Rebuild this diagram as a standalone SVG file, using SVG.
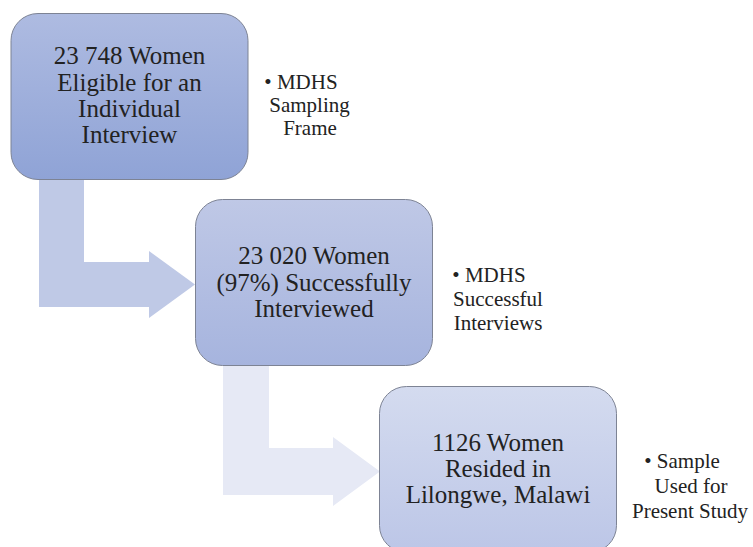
<svg xmlns="http://www.w3.org/2000/svg" width="753" height="547" viewBox="0 0 753 547">
  <style>
    .box { stroke: #7d8394; stroke-width: 1; }
    .bt { font-family: "Liberation Serif", "Times New Roman", serif; font-size: 25px; fill: #222222; text-anchor: middle; }
    .lt { font-family: "Liberation Serif", "Times New Roman", serif; font-size: 21px; fill: #222222; text-anchor: middle; }
  </style>
  <defs>
    <linearGradient id="g1" x1="0" y1="0" x2="0" y2="1">
      <stop offset="0" stop-color="#aebbe1"/>
      <stop offset="1" stop-color="#8fa3d6"/>
    </linearGradient>
    <linearGradient id="g2" x1="0" y1="0" x2="0" y2="1">
      <stop offset="0" stop-color="#bfc8e6"/>
      <stop offset="1" stop-color="#a6b4de"/>
    </linearGradient>
    <linearGradient id="g3" x1="0" y1="0" x2="0" y2="1">
      <stop offset="0" stop-color="#d4dbef"/>
      <stop offset="1" stop-color="#bcc6e7"/>
    </linearGradient>
  </defs>
  <rect width="753" height="547" fill="#ffffff"/>
  <g id="connectors">
    <path d="M39,179 L84,179 L84,262 L149,262 L149,251 L195,284.5 L149,318 L149,307 L39,307 Z" fill="#bfc9e6"/>
    <path d="M223,366 L269,366 L269,448 L333,448 L333,437 L380,471.5 L333,506 L333,495 L223,495 Z" fill="#e6e9f5"/>
  </g>
  <g id="node1">
    <rect class="box" x="11" y="13.5" width="237" height="166" rx="27" fill="url(#g1)"/>
    <text class="bt" x="129.5" y="64">23 748 Women</text>
    <text class="bt" x="129.5" y="90.5">Eligible for an</text>
    <text class="bt" x="129.5" y="116.5">Individual</text>
    <text class="bt" x="129.5" y="143">Interview</text>
  </g>
  <g id="label1">
    <text class="lt" x="301" y="89">• MDHS</text>
    <text class="lt" x="309.5" y="112">Sampling</text>
    <text class="lt" x="310" y="135">Frame</text>
  </g>
  <g id="node2">
    <rect class="box" x="195.5" y="199.5" width="237" height="166" rx="27" fill="url(#g2)"/>
    <text class="bt" x="314" y="264">23 020 Women</text>
    <text class="bt" x="314" y="290.5">(97%) Successfully</text>
    <text class="bt" x="314" y="317">Interviewed</text>
  </g>
  <g id="label2">
    <text class="lt" x="489" y="282">• MDHS</text>
    <text class="lt" x="498" y="306">Successful</text>
    <text class="lt" x="498" y="330">Interviews</text>
  </g>
  <g id="node3">
    <rect class="box" x="379.5" y="386.5" width="237" height="166" rx="27" fill="url(#g3)"/>
    <text class="bt" x="498" y="451">1126 Women</text>
    <text class="bt" x="498" y="477">Resided in</text>
    <text class="bt" x="498" y="503">Lilongwe, Malawi</text>
  </g>
  <g id="label3">
    <text class="lt" x="682" y="468">• Sample</text>
    <text class="lt" x="691" y="493">Used for</text>
    <text class="lt" x="690" y="518">Present Study</text>
  </g>
</svg>
